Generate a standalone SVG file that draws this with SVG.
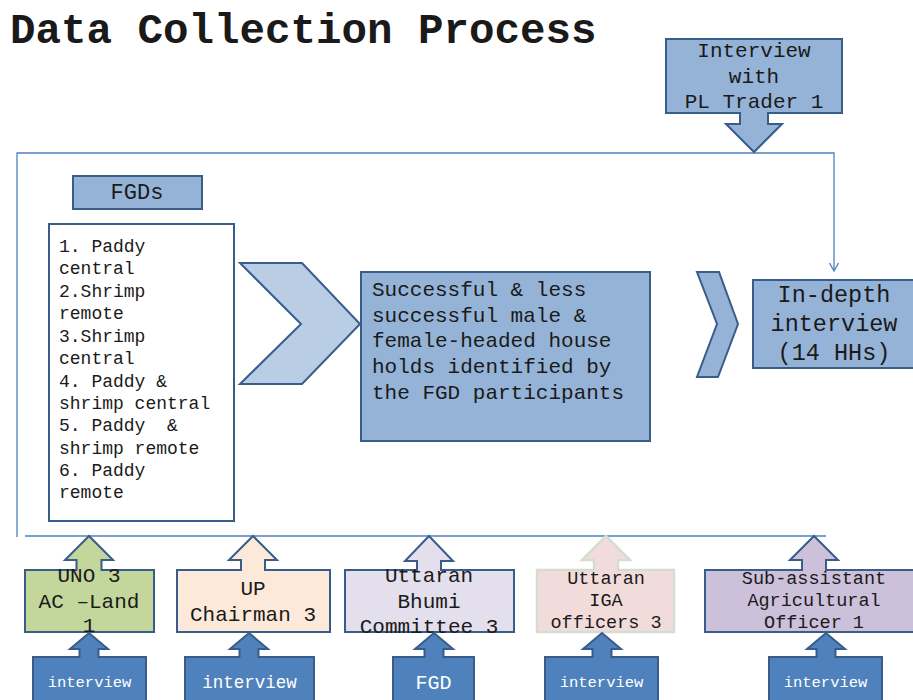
<svg xmlns="http://www.w3.org/2000/svg" width="913" height="700" viewBox="0 0 913 700">
  <defs>
    <style>
      .t { font-family: "Liberation Mono", "Courier New", monospace; fill: #1a1a1a; }
      .c { text-anchor: middle; }
      .s { stroke: #385d8a; stroke-width: 2; }
      .blue { fill: #95b3d7; }
      .dark { fill: #4f81bd; }
      .w { font-family: "Liberation Mono", "Courier New", monospace; fill: #ffffff; text-anchor: middle; }
      .ln { fill: none; stroke: #4f81bd; stroke-width: 1.3; }
    </style>
    <marker id="ah" viewBox="0 0 10 10" refX="9" refY="5" markerWidth="10" markerHeight="10" markerUnits="userSpaceOnUse" orient="auto">
      <path d="M1,0.5 L9,5 L1,9.5" fill="none" stroke="#4f81bd" stroke-width="1.3"/>
    </marker>
  </defs>
  <rect width="913" height="700" fill="#ffffff"/>

  <text x="10" y="43" class="t" font-size="42.5" font-weight="bold" fill="#000">Data Collection Process</text>

  <g id="connectors">
    <polyline class="ln" points="17,537 17,153 834,153 834,271" marker-end="url(#ah)"/>
    <line class="ln" x1="25" y1="536" x2="826" y2="536"/>
  </g>

  <g id="pl-trader">
    <path class="s blue" d="M666,39 H842 V113 H768 V124 H782 L754,152 L726,124 H740 V113 H666 Z"/>
    <text class="t c" font-size="21" x="754" y="57">Interview</text>
    <text class="t c" font-size="21" x="754" y="83">with</text>
    <text class="t c" font-size="21" x="754" y="108">PL Trader 1</text>
  </g>

  <g id="fgds">
    <rect class="s blue" x="73" y="176" width="129" height="33"/>
    <text class="t c" font-size="22" x="137" y="199">FGDs</text>
  </g>

  <g id="fgd-list">
    <rect class="s" fill="#ffffff" x="49" y="224" width="185" height="297"/>
    <g class="t" font-size="18">
      <text x="59" y="252">1. Paddy</text>
      <text x="59" y="274">central</text>
      <text x="59" y="297">2.Shrimp</text>
      <text x="59" y="319">remote</text>
      <text x="59" y="342">3.Shrimp</text>
      <text x="59" y="364">central</text>
      <text x="59" y="387">4. Paddy &amp;</text>
      <text x="59" y="409">shrimp central</text>
      <text x="59" y="431" xml:space="preserve">5. Paddy  &amp;</text>
      <text x="59" y="454">shrimp remote</text>
      <text x="59" y="476">6. Paddy</text>
      <text x="59" y="498">remote</text>
    </g>
  </g>

  <g id="chevron1">
    <path class="s" fill="#b9cde5" d="M240,263 H302 L360,324 L302,384 H240 L301,324 Z"/>
  </g>

  <g id="households">
    <rect class="s blue" x="361" y="272" width="289" height="169"/>
    <g class="t" font-size="21">
      <text x="372" y="296">Successful &amp; less</text>
      <text x="372" y="322">successful male &amp;</text>
      <text x="372" y="347">female-headed house</text>
      <text x="372" y="373">holds identified by</text>
      <text x="372" y="399">the FGD participants</text>
    </g>
  </g>

  <g id="chevron2">
    <path class="s blue" d="M697,272 H719 L738,324 L718,377 H697 L717,324 Z"/>
  </g>

  <g id="in-depth">
    <rect class="s blue" x="753" y="280" width="170" height="88"/>
    <text class="t c" font-size="23.5" x="834" y="302">In-depth</text>
    <text class="t c" font-size="23.5" x="834" y="331">interview</text>
    <text class="t c" font-size="23.5" x="834" y="360">(14 HHs)</text>
  </g>

  <g id="uno">
    <path class="s" fill="#c3d69b" d="M25,570 H76.5 V560 H65 L89,536 L113,560 H101.5 V570 H154 V632 H25 Z"/>
    <text class="t c" font-size="21" x="89" y="582">UNO 3</text>
    <text class="t c" font-size="21" x="89" y="608">AC –Land</text>
    <text class="t c" font-size="21" x="89" y="632">1</text>
  </g>

  <g id="up-chairman">
    <path class="s" fill="#fde9d9" d="M177,570 H241 V560 H229 L253,536 L277,560 H265 V570 H330 V632 H177 Z"/>
    <text class="t c" font-size="21" x="253" y="595">UP</text>
    <text class="t c" font-size="21" x="253" y="621">Chairman 3</text>
  </g>

  <g id="bhumi">
    <path class="s" fill="#e4dfec" d="M345,570 H417 V561 H405 L429,536 L453,561 H441 V570 H514 V632 H345 Z"/>
    <text class="t c" font-size="21" x="429" y="582">Uttaran</text>
    <text class="t c" font-size="21" x="429" y="608">Bhumi</text>
    <text class="t c" font-size="21" x="429" y="633">Committee 3</text>
  </g>

  <g id="iga">
    <path fill="#f2dcdb" stroke="#d5ddd3" stroke-width="2.5" d="M537,570 H594 V560 H582 L606,536 L630,560 H618 V570 H674 V632 H537 Z"/>
    <text class="t c" font-size="18.5" x="606" y="584">Uttaran</text>
    <text class="t c" font-size="18.5" x="606" y="606">IGA</text>
    <text class="t c" font-size="18.5" x="606" y="628">officers 3</text>
  </g>

  <g id="sub-assistant">
    <path class="s" fill="#ccc0da" d="M705,570 H802 V560 H790 L814,536 L838,560 H826 V570 H920 V632 H705 Z"/>
    <text class="t c" font-size="18.5" x="814" y="584">Sub-assistant</text>
    <text class="t c" font-size="18.5" x="814" y="606">Agricultural</text>
    <text class="t c" font-size="18.5" x="814" y="628">Officer 1</text>
  </g>

  <g id="interview-1">
    <path class="s dark" d="M33,657 H79.5 V649 H70 L89,633 L108,649 H98.5 V657 H146 V710 H33 Z"/>
    <text class="w" font-size="15.5" x="89.5" y="687">interview</text>
  </g>
  <g id="interview-2">
    <path class="s dark" d="M185,657 H239.5 V649 H230 L249,633 L268,649 H258.5 V657 H314 V710 H185 Z"/>
    <text class="w" font-size="17.5" x="249.5" y="688">interview</text>
  </g>
  <g id="fgd-input">
    <path class="s dark" d="M393,657 H424.5 V649 H415 L434,633 L453,649 H443.5 V657 H474 V710 H393 Z"/>
    <text class="w" font-size="20" x="433.5" y="689">FGD</text>
  </g>
  <g id="interview-4">
    <path class="s dark" d="M545,657 H592.5 V649 H583 L602,633 L621,649 H611.5 V657 H658 V710 H545 Z"/>
    <text class="w" font-size="15.5" x="601.5" y="687">interview</text>
  </g>
  <g id="interview-5">
    <path class="s dark" d="M769,657 H816.5 V649 H807 L826,633 L845,649 H835.5 V657 H882 V710 H769 Z"/>
    <text class="w" font-size="15.5" x="825.5" y="687">interview</text>
  </g>
</svg>
